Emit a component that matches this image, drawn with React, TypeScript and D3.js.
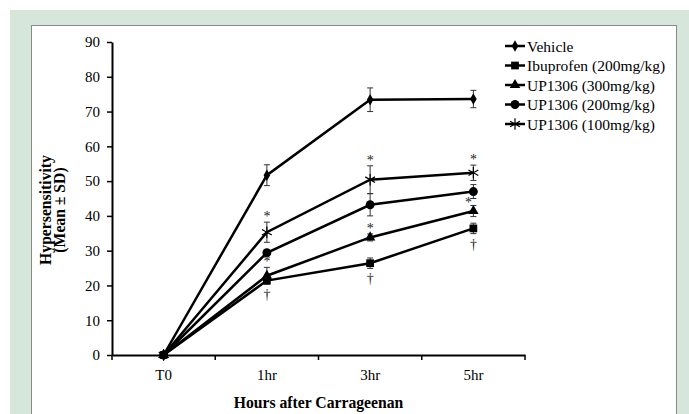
import React, { useEffect, useRef } from 'react';
import * as d3 from 'd3';

const categories = ['T0', '1hr', '3hr', '5hr'];
const yTicks = [0, 10, 20, 30, 40, 50, 60, 70, 80, 90];

const seriesNames = [
  'Vehicle',
  'Ibuprofen (200mg/kg)',
  'UP1306 (300mg/kg)',
  'UP1306 (200mg/kg)',
  'UP1306 (100mg/kg)',
];
const seriesMarkers = ['diamond', 'square', 'triangle', 'circle', 'asterisk'];

const vehicle = [0, 51.7, 73.4, 73.6];
const ibuprofen = [0, 21.4, 26.4, 36.4];
const up300 = [0, 22.8, 33.8, 41.4];
const up200 = [0, 29.4, 43.2, 47.0];
const up100 = [0, 35.3, 50.4, 52.4];

const vehicleSd = [0, 3.0, 3.4, 2.5];
const ibuprofenSd = [0, 1.0, 1.5, 1.5];
const up300Sd = [0, 2.4, 1.0, 1.6];
const up200Sd = [0, 0, 3.2, 2.0];
const up100Sd = [0, 2.9, 4.0, 2.2];

const seriesValues = [vehicle, ibuprofen, up300, up200, up100];
const seriesSd = [vehicleSd, ibuprofenSd, up300Sd, up200Sd, up100Sd];

// significance marks: series index, category, symbol, where
const marks = [
  { s: 4, c: '1hr', t: '*', at: 'above' },
  { s: 2, c: '1hr', t: '*', at: 'above' },
  { s: 1, c: '1hr', t: '†', at: 'below' },
  { s: 4, c: '3hr', t: '*', at: 'above' },
  { s: 2, c: '3hr', t: '*', at: 'above' },
  { s: 1, c: '3hr', t: '†', at: 'below' },
  { s: 4, c: '5hr', t: '*', at: 'above' },
  { s: 2, c: '5hr', t: '*', at: 'left' },
  { s: 1, c: '5hr', t: '†', at: 'below' },
];

const FONT = '"Liberation Serif", "Times New Roman", serif';

function drawMarker(g, type, cx, cy) {
  if (type === 'asterisk') {
    g.append('path')
      .attr('d', d3.symbol(d3.symbolAsterisk, 90)())
      .attr('transform', `translate(${cx},${cy})`)
      .attr('fill', 'none')
      .attr('stroke', '#000')
      .attr('stroke-width', 1.2);
    return;
  }
  const types = {
    diamond: [d3.symbolDiamond, 38],
    square: [d3.symbolSquare, 60],
    triangle: [d3.symbolTriangle, 48],
    circle: [d3.symbolCircle, 62],
  };
  const [t, size] = types[type];
  g.append('path')
    .attr('d', d3.symbol(t, size)())
    .attr('transform', `translate(${cx},${cy})`)
    .attr('fill', '#000');
}

function App() {
  const ref = useRef(null);

  useEffect(() => {
    const svg = d3.select(ref.current);
    svg.selectAll('*').remove();

    svg.append('rect').attr('x', 10).attr('y', 10).attr('width', 679).attr('height', 404).attr('fill', '#d6e6da');
    svg.append('rect').attr('x', 31.5).attr('y', 25.5).attr('width', 645).attr('height', 400)
      .attr('fill', '#fff').attr('stroke', '#8a8a8a').attr('stroke-width', 1);

    const x = d3.scaleBand().domain(categories).range([112, 525]).padding(0);
    const y = d3.scaleLinear().domain([0, 90]).range([355, 42]);
    const cx = (c) => x(c) + x.bandwidth() / 2;

    // y axis
    const yAxis = svg.append('g')
      .attr('transform', 'translate(112,0)')
      .call(d3.axisLeft(y).tickValues(yTicks).tickSize(5).tickSizeOuter(0).tickPadding(7));
    yAxis.select('.domain').attr('stroke-width', 2);
    yAxis.selectAll('.tick line').attr('stroke-width', 1.5);
    yAxis.selectAll('text').attr('font-family', FONT).attr('font-size', 15).attr('fill', '#000');

    // x axis
    const xAxis = svg.append('g')
      .attr('transform', 'translate(0,355)')
      .call(d3.axisBottom(x).tickSize(0).tickSizeOuter(0).tickPadding(14));
    xAxis.select('.domain').attr('stroke-width', 2);
    xAxis.selectAll('text').attr('font-family', FONT).attr('font-size', 15).attr('fill', '#000');
    const bounds = categories.map((c) => x(c)).concat([x.range()[1]]);
    xAxis.selectAll('.bound').data(bounds).enter().append('line')
      .attr('x1', (d) => d).attr('x2', (d) => d).attr('y1', 0).attr('y2', 5)
      .attr('stroke', '#000').attr('stroke-width', 1.5);

    // axis titles
    svg.append('text')
      .attr('x', (x.range()[0] + x.range()[1]) / 2).attr('y', 408)
      .attr('text-anchor', 'middle').attr('font-family', FONT).attr('font-size', 15.7).attr('font-weight', 'bold')
      .text('Hours after Carrageenan');
    const ymid = 210;
    svg.append('text')
      .attr('transform', `translate(51,${ymid}) rotate(-90)`)
      .attr('text-anchor', 'middle').attr('font-family', FONT).attr('font-size', 15.7).attr('font-weight', 'bold')
      .text('Hypersensitivity');
    svg.append('text')
      .attr('transform', `translate(65,${ymid}) rotate(-90)`)
      .attr('text-anchor', 'middle').attr('font-family', FONT).attr('font-size', 15.7).attr('font-weight', 'bold')
      .text('(Mean ± SD)');

    const plot = svg.append('g');
    const line = d3.line().x((d, i) => cx(categories[i])).y((d) => y(d));

    seriesValues.forEach((vals) => {
      plot.append('path').datum(vals).attr('d', line)
        .attr('fill', 'none').attr('stroke', '#000').attr('stroke-width', 2.5);
    });

    // error bars
    seriesValues.forEach((vals, s) => {
      vals.forEach((v, i) => {
        const e = seriesSd[s][i];
        if (!e) return;
        const px = cx(categories[i]);
        const g = plot.append('g').attr('stroke', '#333').attr('stroke-width', 1);
        g.append('line').attr('x1', px).attr('x2', px).attr('y1', y(v - e)).attr('y2', y(v + e));
        g.append('line').attr('x1', px - 3).attr('x2', px + 3).attr('y1', y(v - e)).attr('y2', y(v - e));
        g.append('line').attr('x1', px - 3).attr('x2', px + 3).attr('y1', y(v + e)).attr('y2', y(v + e));
      });
    });

    // markers (ibuprofen last so its square sits on top at T0)
    [0, 2, 3, 4, 1].forEach((s) => {
      seriesValues[s].forEach((v, i) => drawMarker(plot, seriesMarkers[s], cx(categories[i]), y(v)));
    });

    // significance marks
    marks.forEach((m) => {
      const i = categories.indexOf(m.c);
      const v = seriesValues[m.s][i];
      const e = seriesSd[m.s][i];
      let px = cx(m.c);
      let py = y(v + e) - 1;
      if (m.at === 'below') py = y(v - e) + 15;
      if (m.at === 'left') { px -= 5; py = y(v + e) + 2; }
      plot.append('text').attr('x', px).attr('y', py).attr('text-anchor', 'middle')
        .attr('font-family', FONT).attr('font-size', 14).attr('fill', '#222').text(m.t);
    });

    // legend
    const legend = svg.append('g').attr('transform', 'translate(505,46)');
    seriesNames.forEach((name, i) => {
      const g = legend.append('g').attr('transform', `translate(0,${i * 19.5})`);
      g.append('line').attr('x1', 0).attr('x2', 20).attr('y1', 0).attr('y2', 0)
        .attr('stroke', '#000').attr('stroke-width', 2.5);
      drawMarker(g, seriesMarkers[i], 10, 0);
      g.append('text').attr('x', 22).attr('y', 5.5)
        .attr('font-family', FONT).attr('font-size', 15.5).attr('fill', '#000').text(name);
    });
  }, []);

  return (
    <svg ref={ref} width={689} height={414}
      style={{ position: 'absolute', left: 0, top: 0, background: '#fff' }} />
  );
}

export default App;
